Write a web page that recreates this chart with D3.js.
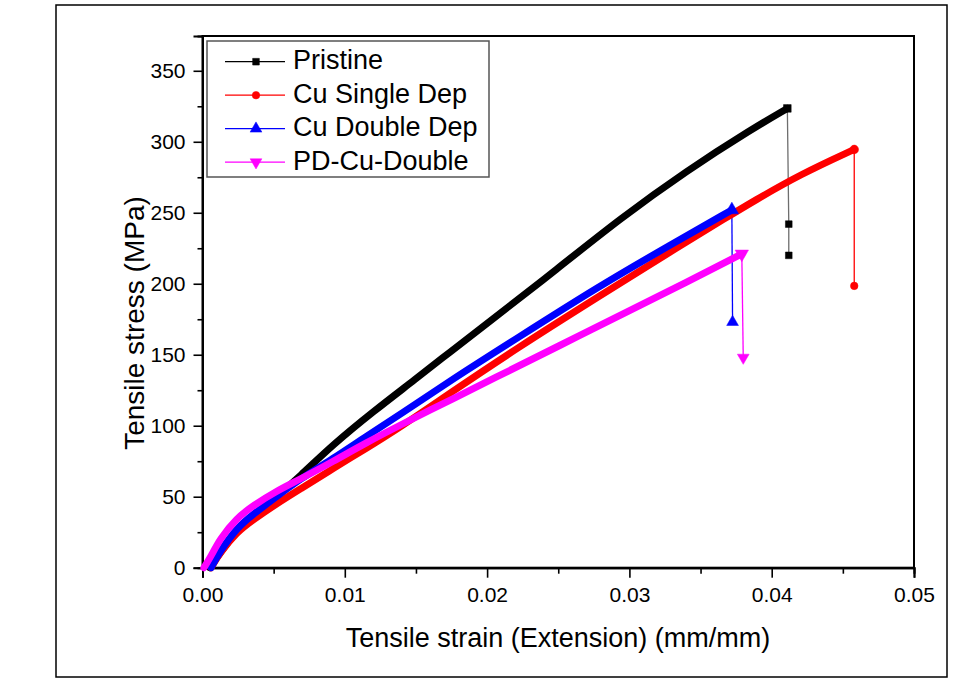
<!DOCTYPE html>
<html><head><meta charset="utf-8">
<script src="https://cdn.jsdelivr.net/npm/d3@7"></script>
<style>
html,body{margin:0;padding:0;background:#fff;}
svg text{font-family:"Liberation Sans",Arial,sans-serif;fill:#000;}
</style></head>
<body>
<svg id="chart" width="966" height="693"></svg>
<script>
// ---- data (strain mm/mm, stress MPa) ----
const seriesNames = ["Pristine", "Cu Single Dep", "Cu Double Dep", "PD-Cu-Double"];
const seriesColors = ["#000000", "#ff0000", "#0000ff", "#ff00ff"];
const seriesMarkers = ["square", "circle", "triangle", "triangleDown"];

const pristine = [[0.0005,0],[0.0012,10],[0.0024,26],[0.0036,37],[0.0052,50],[0.0068,64],[0.0092,87],[0.0120,110],[0.0150,133],[0.0174,152],[0.0200,172],[0.0250,211],[0.0293,245.5],[0.0340,279.5],[0.0387,309.5],[0.0411,323.5]];
const cuSingle = [[0.0006,0],[0.0012,10],[0.0024,25],[0.0036,34],[0.0052,45],[0.0068,55],[0.0092,70],[0.0115,84],[0.0139,99],[0.0174,123],[0.0220,154],[0.0280,192],[0.0336,227],[0.0368,246.5],[0.0387,258],[0.0420,277],[0.0458,294.6]];
const cuDouble = [[0.0006,0],[0.0012,11],[0.0024,28],[0.0036,38],[0.0052,50],[0.0068,62],[0.0092,77],[0.0115,92.5],[0.0139,108],[0.0176,133],[0.0220,161],[0.0279,198.5],[0.0330,228],[0.0372,252]];
const pdCuDouble = [[0.0001,0],[0.0006,8],[0.0012,20],[0.0024,35],[0.0036,44],[0.0052,54],[0.0068,62],[0.0092,75],[0.0115,88],[0.0139,100.5],[0.0162,112],[0.0174,118],[0.0204,133],[0.0250,156],[0.0300,181],[0.0340,201],[0.0379,221]];

// fracture drop points (after the last curve point)
const pristineDrop = [[0.0412,242],[0.0412,220]];
const cuSingleDrop = [[0.0458,198.5]];
const cuDoubleDrop = [[0.03725,173]];
const pdCuDoubleDrop = [[0.0380,148]];

const xTicks = [0, 0.01, 0.02, 0.03, 0.04, 0.05];
const xTickLabels = ["0.00", "0.01", "0.02", "0.03", "0.04", "0.05"];
const yTicks = [0, 50, 100, 150, 200, 250, 300, 350];
const xTitle = "Tensile strain (Extension) (mm/mm)";
const yTitle = "Tensile stress (MPa)";

const curves = [pristine, cuSingle, cuDouble, pdCuDouble];
const drops = [pristineDrop, cuSingleDrop, cuDoubleDrop, pdCuDoubleDrop];

// ---- layout ----
const svg = d3.select("#chart");
const L = 202.5, R = 914, T = 36, B = 567.7;
const x = d3.scaleLinear().domain([0, 0.05]).range([L, R]);
const y = d3.scaleLinear().domain([0, 374.5]).range([B, T]);

// outer frame
svg.append("rect").attr("x", 56).attr("y", 5).attr("width", 891).attr("height", 672)
  .attr("fill", "none").attr("stroke", "#000").attr("stroke-width", 1.5);

// plot box
svg.append("rect").attr("x", L).attr("y", T).attr("width", R - L).attr("height", B - T)
  .attr("fill", "none").attr("stroke", "#000").attr("stroke-width", 2);

// axes
const xAxis = d3.axisBottom(x).tickValues(xTicks).tickSize(10).tickPadding(9)
  .tickFormat((d, i) => xTickLabels[i]);
const gx = svg.append("g").attr("transform", `translate(0,${B})`).call(xAxis);
const xMinor = d3.axisBottom(x).tickValues(d3.range(0.005, 0.05, 0.01)).tickSize(6).tickFormat("");
const gxm = svg.append("g").attr("transform", `translate(0,${B})`).call(xMinor);

const yAxis = d3.axisLeft(y).tickValues(yTicks).tickSize(9).tickPadding(8);
const gy = svg.append("g").attr("transform", `translate(${L},0)`).call(yAxis);
const yMinor = d3.axisLeft(y).tickValues(d3.range(25, 375, 50)).tickSize(5).tickFormat("");
const gym = svg.append("g").attr("transform", `translate(${L},0)`).call(yMinor);

[gx, gxm, gy, gym].forEach(g => {
  g.select(".domain").attr("stroke", "#000").attr("stroke-width", 2);
  g.selectAll(".tick line").attr("stroke", "#000").attr("stroke-width", 1.6);
  g.selectAll(".tick text").attr("font-size", 21).attr("font-family", "Liberation Sans, Arial, sans-serif").attr("fill", "#000");
});
gx.selectAll(".tick text").attr("dy", "0.71em");

// titles
svg.append("text").attr("x", 558).attr("y", 647).attr("text-anchor", "middle")
  .attr("font-size", 27).text(xTitle);
svg.append("text").attr("transform", "translate(144,323) rotate(-90)").attr("text-anchor", "middle")
  .attr("font-size", 28).text(yTitle);

// marker symbols
function symbolFor(kind, size) {
  const types = {square: d3.symbolSquare, circle: d3.symbolCircle, triangle: d3.symbolTriangle, triangleDown: d3.symbolTriangle};
  return d3.symbol().type(types[kind]).size(size)();
}
function addMarker(g, kind, px, py, color, size) {
  g.append("path").attr("d", symbolFor(kind, size))
    .attr("transform", `translate(${px},${py})` + (kind === "triangleDown" ? " rotate(180)" : ""))
    .attr("fill", color).attr("stroke", color).attr("stroke-width", 0.5);
}

const plot = svg.append("g");
const line = d3.line().x(d => x(d[0])).y(d => y(d[1])).curve(d3.curveBasis);
const sizes = [45, 45, 60, 60];

curves.forEach((c, i) => {
  const col = seriesColors[i];
  const tip = c[c.length - 1];
  const dropPts = [tip].concat(drops[i]);
  plot.append("path").attr("d", d3.line().x(d => x(d[0])).y(d => y(d[1]))(dropPts))
    .attr("fill", "none").attr("stroke", i === 0 ? "#6e6e6e" : col).attr("stroke-width", 1.3);
});
curves.forEach((c, i) => {
  const col = seriesColors[i];
  plot.append("path").attr("d", line(c)).attr("fill", "none").attr("stroke", col)
    .attr("stroke-width", 7).attr("stroke-linejoin", "round").attr("stroke-linecap", "round");
  const tip = c[c.length - 1];
  addMarker(plot, seriesMarkers[i], x(tip[0]), y(tip[1]), col, sizes[i] * 1.3);
  drops[i].forEach(p => addMarker(plot, seriesMarkers[i], x(p[0]), y(p[1]), col, sizes[i]));
});

// legend
const lg = svg.append("g");
lg.append("rect").attr("x", 207).attr("y", 41).attr("width", 282).attr("height", 136)
  .attr("fill", "#fff").attr("stroke", "#555").attr("stroke-width", 1.5);
seriesNames.forEach((name, i) => {
  const cy = 61.7 + i * 33.5;
  lg.append("line").attr("x1", 225).attr("x2", 285).attr("y1", cy).attr("y2", cy)
    .attr("stroke", seriesColors[i]).attr("stroke-width", 1.3);
  addMarker(lg, seriesMarkers[i], 256, cy, seriesColors[i], sizes[i]);
  lg.append("text").attr("x", 293).attr("y", cy + 7.5).attr("font-size", 27).text(name);
});
</script>
</body></html>
